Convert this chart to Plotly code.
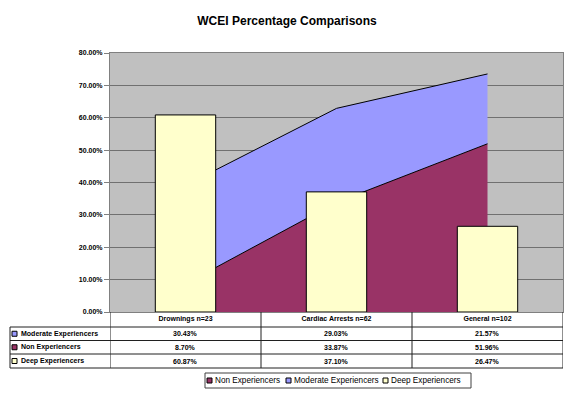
import plotly.graph_objects as go

categories = ["Drownings n=23", "Cardiac Arrests n=62", "General n=102"]
non_exp = [8.70, 33.87, 51.96]
moderate_exp = [30.43, 29.03, 21.57]
deep_exp = [60.87, 37.10, 26.47]
y_ticks = [0, 10, 20, 30, 40, 50, 60, 70, 80]

C_NON = "#993366"
C_MOD = "#9999FF"
C_DEEP = "#FFFFCC"
FONT = "Arial, Liberation Sans, sans-serif"

W, H = 576, 393

fig = go.Figure()

# stacked areas (Non + Moderate)
fig.add_trace(go.Scatter(x=categories, y=non_exp, name="Non Experiencers", stackgroup="a",
                         mode="lines", line=dict(color="black", width=1), fillcolor=C_NON,
                         showlegend=False, xaxis="x", yaxis="y"))
fig.add_trace(go.Scatter(x=categories, y=moderate_exp, name="Moderate Experiencers", stackgroup="a",
                         mode="lines", line=dict(color="black", width=1), fillcolor=C_MOD,
                         showlegend=False, xaxis="x", yaxis="y"))
# bars drawn on an overlaying axis so they sit in front of the areas
fig.add_trace(go.Bar(x=categories, y=deep_exp, name="Deep Experiencers",
                     marker=dict(color=C_DEEP, line=dict(color="black", width=1)),
                     showlegend=False, xaxis="x", yaxis="y2"))

x_dom = [110 / W, 563 / W]
y_dom = [1 - 312 / H, 1 - 53 / H]

def py(px):
    return 1 - px / H

def pxx(px):
    return px / W

# ---- data table beneath the plot (Excel style) ----
row_names = ["Moderate Experiencers", "Non Experiencers", "Deep Experiencers"]
row_colors = [C_MOD, C_NON, C_DEEP]
row_vals = [moderate_exp, non_exp, deep_exp]
row_lines = [327, 340.5, 354, 368]   # horizontal table lines (px from top)
table_left = 10

shapes = []
annotations = []
line_style = dict(color="#202020", width=1)
for yl in row_lines:
    shapes.append(dict(type="line", xref="paper", yref="paper", x0=pxx(table_left), x1=x_dom[1],
                       y0=py(yl), y1=py(yl), line=line_style, layer="above"))
for k in range(len(categories) + 1):
    shapes.append(dict(type="line", xref="x", yref="paper", x0=k - 0.5, x1=k - 0.5,
                       y0=py(312), y1=py(row_lines[-1]), line=line_style, layer="above"))
shapes.append(dict(type="line", xref="paper", yref="paper", x0=pxx(table_left), x1=pxx(table_left),
                   y0=py(row_lines[0]), y1=py(row_lines[-1]), line=line_style, layer="above"))

for r, (name, col, vals) in enumerate(zip(row_names, row_colors, row_vals)):
    yc = (row_lines[r] + row_lines[r + 1]) / 2
    shapes.append(dict(type="rect", xref="paper", yref="paper", x0=pxx(12), x1=pxx(17),
                       y0=py(yc + 2.5), y1=py(yc - 2.5), fillcolor=col,
                       line=dict(color="black", width=1), layer="above"))
    annotations.append(dict(text=f"<b>{name}</b>", xref="paper", yref="paper", x=pxx(19), y=py(yc),
                            xanchor="left", yanchor="middle", showarrow=False,
                            font=dict(family=FONT, size=7, color="black")))
    for ci, v in enumerate(vals):
        annotations.append(dict(text=f"<b>{v:.2f}%</b>", xref="x", yref="paper", x=categories[ci],
                                y=py(yc), xanchor="center", yanchor="middle", showarrow=False,
                                font=dict(family=FONT, size=7, color="black")))

# ---- legend box ----
legend_names = ["Non Experiencers", "Moderate Experiencers", "Deep Experiencers"]
legend_colors = [C_NON, C_MOD, C_DEEP]
legend_swatch_x = [207, 286, 383]
leg_top, leg_bot = 373, 388
leg_mid = (leg_top + leg_bot) / 2
shapes.append(dict(type="rect", xref="paper", yref="paper", x0=pxx(205), x1=pxx(471),
                   y0=py(leg_bot), y1=py(leg_top), fillcolor="white",
                   line=dict(color="#404040", width=1), layer="above"))
for name, col, sx in zip(legend_names, legend_colors, legend_swatch_x):
    shapes.append(dict(type="rect", xref="paper", yref="paper", x0=pxx(sx), x1=pxx(sx + 5),
                       y0=py(leg_mid + 2.5), y1=py(leg_mid - 2.5), fillcolor=col,
                       line=dict(color="black", width=1), layer="above"))
    annotations.append(dict(text=name, xref="paper", yref="paper", x=pxx(sx + 6), y=py(leg_mid),
                            xanchor="left", yanchor="middle", showarrow=False,
                            font=dict(family=FONT, size=8.2, color="black")))

fig.update_layout(
    width=W, height=H,
    margin=dict(l=0, r=0, t=0, b=0),
    paper_bgcolor="white",
    plot_bgcolor="#C0C0C0",
    font=dict(family=FONT, size=7, color="black"),
    bargap=0.6,
    showlegend=False,
    title=dict(text="<b>WCEI Percentage Comparisons</b>", x=287 / W, xanchor="center",
               y=py(21), yanchor="middle", font=dict(family=FONT, size=12, color="black")),
    xaxis=dict(domain=x_dom, type="category", range=[-0.5, 2.5],
               tickvals=categories, ticktext=[f"<b>{c}</b>" for c in categories],
               tickfont=dict(family=FONT, size=7, color="black"),
               showgrid=False, showline=True, linecolor="#808080", linewidth=1, mirror=True,
               ticks="", zeroline=False, automargin=False),
    yaxis=dict(domain=y_dom, range=[0, 80], tickvals=y_ticks,
               ticktext=[f"<b>{v:.2f}%</b>" for v in y_ticks],
               showgrid=True, gridcolor="#707070", gridwidth=1,
               showline=True, linecolor="#808080", linewidth=1, mirror=True,
               ticks="outside", ticklen=5, tickcolor="#808080",
               tickfont=dict(family=FONT, size=7, color="black"), zeroline=False,
               automargin=False),
    yaxis2=dict(domain=y_dom, range=[0, 80], overlaying="y", visible=False, showgrid=False),
    shapes=shapes,
    annotations=annotations,
)

fig.write_html("out.html", config={"displayModeBar": False},
               post_script="document.body.style.margin='0';document.body.style.padding='0';")
